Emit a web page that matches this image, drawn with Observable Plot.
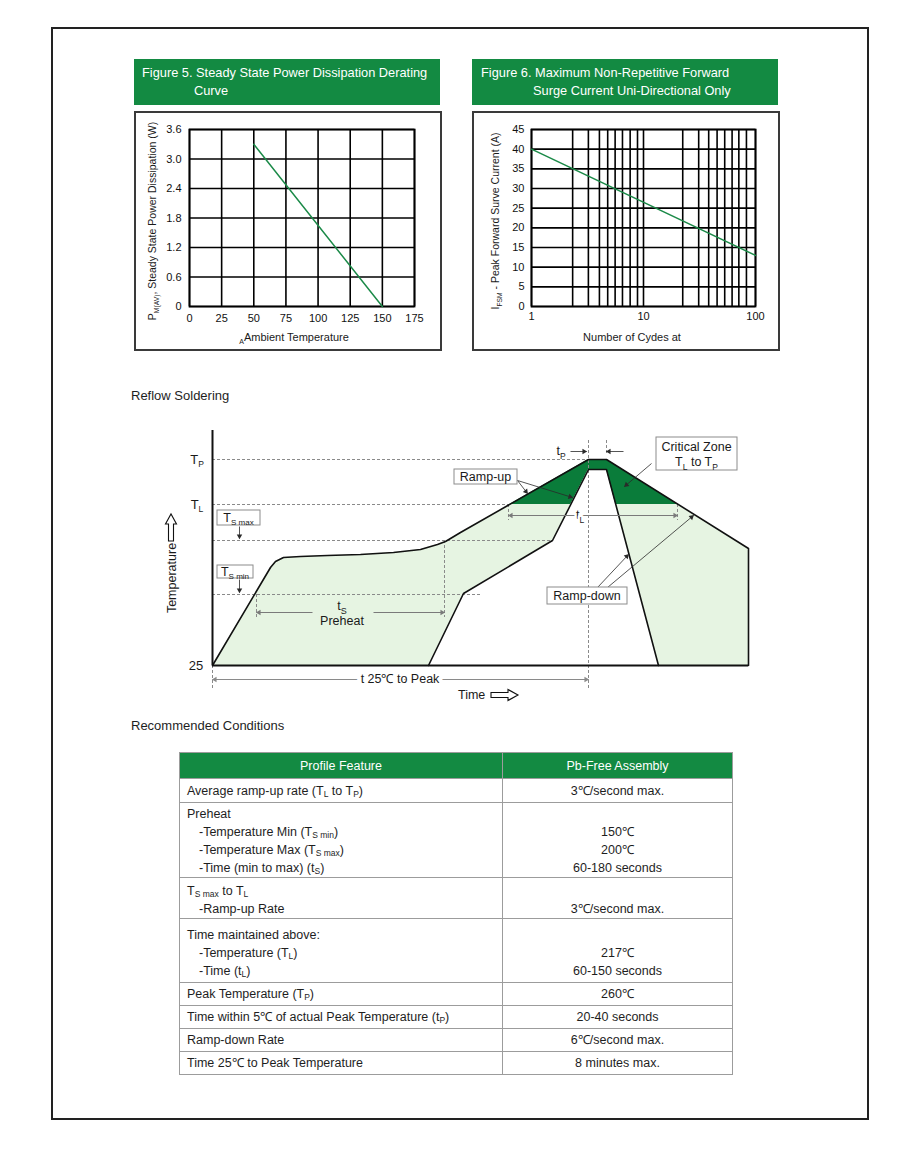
<!DOCTYPE html>
<html><head><meta charset="utf-8">
<script src="https://cdn.jsdelivr.net/npm/d3@7"></script>
<script src="https://cdn.jsdelivr.net/npm/@observablehq/plot@0.6"></script>
<style>
html,body{margin:0;padding:0;background:#fff;}
body{font-family:"Liberation Sans",Arial,Helvetica,sans-serif;color:#1e1e1e;}
#page{position:relative;width:920px;height:1150px;overflow:hidden;background:#fff;}
.abs{position:absolute;}
#frame{left:51px;top:27px;width:818px;height:1093px;border:2px solid #222;box-sizing:border-box;}
.hdr{background:#138a42;color:#fff;font-size:12.8px;line-height:18px;box-sizing:border-box;padding-top:5px;white-space:nowrap;}
.chartbox{border:2px solid #3a3a3a;box-sizing:border-box;background:#fff;}
.section{font-size:13px;line-height:16px;}
#tbl{left:179px;top:752px;width:553px;border-collapse:collapse;font-size:12.5px;table-layout:fixed;}
#tbl td,#tbl th{border:1px solid #9c9c9c;padding:0 0 0 7px;line-height:18px;font-weight:normal;box-sizing:border-box;}
#tbl th{background:#138a42;color:#fff;text-align:center;padding:0;height:26px;}
#tbl td.v{text-align:center;padding-left:0;}
#tbl td div{height:18px;overflow:visible;white-space:nowrap;}
#tbl sub{font-size:8.5px;vertical-align:-2px;line-height:0;}
.ind{padding-left:12px;}
</style></head>
<body>
<div id="page">
  <div id="frame" class="abs"></div>
  <div class="abs hdr" style="left:134px;top:59px;width:306px;height:46px;"><div style="padding-left:8px">Figure 5. Steady State Power Dissipation Derating</div><div style="padding-left:60px">Curve</div></div>
  <div class="abs hdr" style="left:472px;top:59px;width:306px;height:46px;"><div style="padding-left:9px">Figure 6. Maximum Non-Repetitive Forward</div><div style="padding-left:61px">Surge Current Uni-Directional Only</div></div>
  <div class="abs chartbox" style="left:134px;top:111px;width:308px;height:240px;"></div>
  <div class="abs chartbox" style="left:472px;top:111px;width:308px;height:240px;"></div>
  <div id="fig5" class="abs" style="left:136px;top:112px;"></div>
  <div id="fig6" class="abs" style="left:474px;top:112px;"></div>
  <div class="abs section" style="left:131px;top:388px;">Reflow Soldering</div>
  <div id="reflow" class="abs" style="left:150px;top:425px;"></div>
  <div class="abs section" style="left:131px;top:718px;">Recommended Conditions</div>
  <table id="tbl" class="abs"><colgroup><col style="width:323px"><col style="width:230px"></colgroup><tbody></tbody></table>
</div>
<script>
const FONT = '"Liberation Sans", Arial, Helvetica, sans-serif';
const LINE_GREEN = "#1b8a48";
const LIGHT = "#e6f4e2";
const DARK = "#0a7c3a";

// ---------- Figure 5 data ----------
const fig5Temperature = [50, 150];
const fig5Power = [3.3, 0];
const fig5XTicks = [0, 25, 50, 75, 100, 125, 150, 175];
const fig5YTicks = [0, 0.6, 1.2, 1.8, 2.4, 3.0, 3.6];

// ---------- Figure 6 data ----------
const fig6Cycles = [1, 100];
const fig6Current = [40, 13];
const fig6XTicks = [1, 10, 100];
const fig6GridCycles = [1, 2.33, 3.22, 4.04, 4.79, 5.58, 6.49, 7.6, 8.84, 10, 22.4, 31.1, 38.2, 45.4, 53.1, 61.8, 71, 83, 100];
const fig6YTicks = [0, 5, 10, 15, 20, 25, 30, 35, 40, 45];

// ---------- Reflow profile (schematic units: time, temperature height above 25) ----------
const outerTime = [0, 58, 63, 71, 88, 115, 148, 181, 208, 225, 233, 248, 376, 394, 536, 536];
const outerTemp = [0, 98, 104, 108, 109, 110, 111, 113, 116, 121, 124, 133, 206, 206, 117, 0];
const innerTime = [216, 251, 340, 376, 394, 446];
const innerTemp = [0, 72, 125, 196, 196, 0];
const levelNames = ["TsMin", "TsMax", "TL", "TP"];
const levelValues = [71, 125, 161, 206];

// ---------- Table ----------
const tableHeader = ["Profile Feature", "Pb-Free Assembly"];
const featureCells = [
  ["Average ramp-up rate (T<sub>L</sub> to T<sub>P</sub>)"],
  ["Preheat", "*-Temperature Min (T<sub>S min</sub>)", "*-Temperature Max (T<sub>S max</sub>)", "*-Time (min to max) (t<sub>S</sub>)"],
  ["T<sub>S max</sub> to T<sub>L</sub>", "*-Ramp-up Rate"],
  ["Time maintained above:", "*-Temperature (T<sub>L</sub>)", "*-Time (t<sub>L</sub>)"],
  ["Peak Temperature (T<sub>P</sub>)"],
  ["Time within 5℃ of actual Peak Temperature (t<sub>P</sub>)"],
  ["Ramp-down Rate"],
  ["Time 25℃ to Peak Temperature"]
];
const valueCells = [
  ["3℃/second max."],
  ["", "150℃", "200℃", "60-180 seconds"],
  ["", "3℃/second max."],
  ["", "217℃", "60-150 seconds"],
  ["260℃"],
  ["20-40 seconds"],
  ["6℃/second max."],
  ["8 minutes max."]
];

// ---------- helpers ----------
function richText(svg, x, y, parts, o = {}) {
  const size = o.size || 12.5, subSize = o.subSize || size * 0.64, shift = size * 0.28;
  const t = d3.select(svg).append("text")
    .attr("transform", `translate(${x},${y})${o.rotate ? ` rotate(${o.rotate})` : ""}`)
    .attr("text-anchor", o.anchor || "middle")
    .attr("y", "0.35em")
    .attr("font-family", FONT).attr("font-size", size).attr("fill", o.fill || "#1a1a1a");
  if (o.halo) t.attr("stroke", "#fff").attr("stroke-width", o.halo).attr("stroke-linejoin", "round").attr("paint-order", "stroke");
  let down = false;
  for (const p of parts) {
    const sub = Array.isArray(p), str = sub ? p[0] : p;
    const ts = t.append("tspan").text(str);
    if (sub) { ts.attr("font-size", subSize); if (!down) { ts.attr("dy", shift); down = true; } }
    else if (down) { ts.attr("dy", -shift); down = false; }
  }
}
function hollowArrow(svg, x, y, rot) {
  d3.select(svg).append("path")
    .attr("transform", `translate(${x},${y}) rotate(${rot})`)
    .attr("d", "M0,-2.5H17V-5.5L27,0L17,5.5V2.5H0Z")
    .attr("fill", "#fff").attr("stroke", "#111").attr("stroke-width", 1.1);
}
const axisStyle = {fontFamily: FONT, fontSize: "11px", color: "#111", background: "transparent", overflow: "visible"};

// ---------- Figure 5 ----------
{
  const data = fig5Temperature.map((t, i) => ({t, p: fig5Power[i]}));
  const plot = Plot.plot({
    width: 303, height: 237, marginLeft: 53, marginRight: 25, marginTop: 17, marginBottom: 43,
    style: axisStyle,
    x: {domain: [0, 175]},
    y: {domain: [0, 3.6]},
    marks: [
      Plot.gridX(fig5XTicks, {stroke: "#000", strokeOpacity: 1, strokeWidth: 1.6}),
      Plot.gridY(fig5YTicks, {stroke: "#000", strokeOpacity: 1, strokeWidth: 1.6}),
      Plot.frame({stroke: "#000", strokeWidth: 1.8}),
      Plot.line(data, {x: "t", y: "p", stroke: LINE_GREEN, strokeWidth: 1.5}),
      Plot.axisX({ticks: fig5XTicks, tickSize: 0, tickPadding: 8, label: null}),
      Plot.axisY({ticks: fig5YTicks, tickSize: 0, tickPadding: 8, label: null, tickFormat: d => d === 0 ? "0" : d.toFixed(1)})
    ]
  });
  document.getElementById("fig5").append(plot);
  richText(plot, 16, 109, ["P", ["M(AV)"], ", Steady State Power Dissipation (W)"], {size: 10.5, rotate: -90});
  richText(plot, 158, 225, [["A"], "Ambient Temperature"], {size: 11});
}

// ---------- Figure 6 ----------
{
  const data = fig6Cycles.map((c, i) => ({c, a: fig6Current[i]}));
  const plot = Plot.plot({
    width: 302, height: 237, marginLeft: 57, marginRight: 21, marginTop: 17, marginBottom: 43,
    style: axisStyle,
    x: {type: "log", domain: [1, 100]},
    y: {domain: [0, 45]},
    marks: [
      Plot.gridX(fig6GridCycles, {stroke: "#000", strokeOpacity: 1, strokeWidth: 1.6}),
      Plot.gridY(fig6YTicks, {stroke: "#000", strokeOpacity: 1, strokeWidth: 1.6}),
      Plot.frame({stroke: "#000", strokeWidth: 1.8}),
      Plot.line(data, {x: "c", y: "a", stroke: LINE_GREEN, strokeWidth: 1.5}),
      Plot.axisX({ticks: fig6XTicks, tickSize: 0, tickPadding: 6, label: null, tickFormat: d => String(d)}),
      Plot.axisY({ticks: fig6YTicks, tickSize: 0, tickPadding: 7, label: null})
    ]
  });
  document.getElementById("fig6").append(plot);
  richText(plot, 21, 109, ["I", ["FSM"], " - Peak Forward Surve Current (A)"], {size: 10.5, rotate: -90});
  richText(plot, 158, 225, ["Number of Cydes at"], {size: 11});
}

// ---------- Reflow diagram ----------
{
  const L = Object.fromEntries(levelNames.map((n, i) => [n, levelValues[i]]));
  const outer = outerTime.map((x, i) => ({x, y: outerTemp[i]}));
  const inner = innerTime.map((x, i) => ({x, y: innerTemp[i]}));
  function above(points, level) {
    const out = [];
    points.forEach((p, i) => {
      if (i > 0) {
        const q = points[i - 1];
        if ((q.y - level) * (p.y - level) < 0) {
          const t = (level - q.y) / (p.y - q.y);
          out.push({x: q.x + t * (p.x - q.x), y: level});
        }
      }
      if (p.y >= level) out.push(p);
    });
    return out;
  }
  const critical = above(outer, L.TL);

  const dashH = [
    {y: L.TP, x1: 0, x2: 376}, {y: L.TL, x1: 0, x2: 298},
    {y: L.TsMax, x1: 0, x2: 340}, {y: L.TsMin, x1: 0, x2: 268}
  ];
  const dashV = [
    {x: 0, y1: 0, y2: -25}, {x: 376, y1: 225, y2: -25}, {x: 394, y1: 212, y2: 225},
    {x: 296, y1: L.TL, y2: 145}, {x: 465, y1: L.TL, y2: 145},
    {x: 44, y1: L.TsMin, y2: 48}, {x: 232, y1: L.TsMax, y2: 48}
  ];
  const boxes = [
    {x1: 5, x2: 48, y1: 140, y2: 155}, {x1: 5, x2: 41, y1: 87, y2: 100},
    {x1: 242, x2: 305, y1: 181, y2: 196}, {x1: 444, x2: 525, y1: 195, y2: 228},
    {x1: 335, x2: 415, y1: 61, y2: 78}
  ];
  const arrows = [
    {x1: 27, y1: 139, x2: 27, y2: 127, k: "dark"}, {x1: 27, y1: 86, x2: 27, y2: 73, k: "dark"},
    {x1: 305, y1: 185, x2: 315, y2: 172, k: "dark"}, {x1: 305, y1: 185, x2: 360, y2: 168, k: "dark"},
    {x1: 439, y1: 202, x2: 412, y2: 179, k: "dark"},
    {x1: 385, y1: 78, x2: 416, y2: 111, k: "dark"}, {x1: 395, y1: 78, x2: 481, y2: 150, k: "dark"},
    {x1: 358, y1: 214, x2: 374, y2: 214, k: "dark"}, {x1: 411, y1: 214, x2: 394, y2: 214, k: "dark"},
    {x1: 100, y1: 53, x2: 44, y2: 53, k: "gray"}, {x1: 161, y1: 53, x2: 232, y2: 53, k: "gray"},
    {x1: 368, y1: 150, x2: 296, y2: 150, k: "gray"}, {x1: 368, y1: 150, x2: 465, y2: 150, k: "gray"},
    {x1: 188, y1: -14, x2: 0, y2: -14, k: "dash"}, {x1: 188, y1: -14, x2: 376, y2: -14, k: "dash"}
  ];
  const heads = arrows.map(a => {
    const dx = a.x2 - a.x1, dy = a.y2 - a.y1, len = Math.hypot(dx, dy);
    return {x: a.x2 - dx / len * 2.5, y: a.y2 - dy / len * 2.5, angle: Math.atan2(dx, dy) * 180 / Math.PI, k: a.k};
  });
  const col = {dark: "#2a2a2a", gray: "#7a7a7a", dash: "#8a8a8a"};

  const plot = Plot.plot({
    width: 640, height: 280, marginLeft: 62, marginRight: 38, marginTop: 5, marginBottom: 40,
    style: {fontFamily: FONT, fontSize: "12.5px", background: "transparent", overflow: "visible"},
    x: {domain: [0, 540], axis: null},
    y: {domain: [0, 235], axis: null},
    marks: [
      Plot.areaY(outer, {x: "x", y: "y", fill: LIGHT}),
      Plot.areaY(critical, {x: "x", y1: L.TL, y2: "y", fill: DARK}),
      Plot.areaY(inner, {x: "x", y: "y", fill: "#fff"}),
      Plot.ruleY(dashH, {y: "y", x1: "x1", x2: "x2", stroke: "#8a8a8a", strokeWidth: 1, strokeDasharray: "3,2"}),
      Plot.ruleX(dashV, {x: "x", y1: "y1", y2: "y2", stroke: "#8a8a8a", strokeWidth: 1, strokeDasharray: "3,2"}),
      Plot.line(outer, {x: "x", y: "y", stroke: "#111", strokeWidth: 1.6}),
      Plot.line(inner, {x: "x", y: "y", stroke: "#111", strokeWidth: 1.6}),
      Plot.ruleX([0], {y1: 0, y2: 235, stroke: "#111", strokeWidth: 2}),
      Plot.ruleY([0], {x1: 0, x2: 536, stroke: "#111", strokeWidth: 2}),
      Plot.link(arrows, {x1: "x1", y1: "y1", x2: "x2", y2: "y2", stroke: d => col[d.k], strokeWidth: d => d.k === "dark" ? 0.8 : 1, strokeDasharray: d => d.k === "dash" ? "3,2" : null}),
      Plot.dot(heads, {x: "x", y: "y", symbol: "triangle2", r: 2.6, fill: d => col[d.k], rotate: "angle"}),
      Plot.rect(boxes, {x1: "x1", x2: "x2", y1: "y1", y2: "y2", fill: "#fff", stroke: "#8c8c8c", strokeWidth: 1})
    ]
  });
  document.getElementById("reflow").append(plot);
  const sx = v => plot.scale("x").apply(v), sy = v => plot.scale("y").apply(v);
  richText(plot, sx(-15), sy(L.TP), ["T", ["P"]], {size: 13, subSize: 8.5});
  richText(plot, sx(-15), sy(L.TL), ["T", ["L"]], {size: 13, subSize: 8.5});
  richText(plot, sx(-16), sy(0), ["25"], {size: 13});
  richText(plot, sx(26.5), sy(147.5), ["T", ["S max"]], {size: 12.5, subSize: 8});
  richText(plot, sx(23), sy(93.5), ["T", ["S min"]], {size: 12.5, subSize: 8});
  richText(plot, sx(273.5), sy(188.5), ["Ramp-up"]);
  richText(plot, sx(484.5), sy(218.5), ["Critical Zone"]);
  richText(plot, sx(484.5), sy(203), ["T", ["L"], " to T", ["P"]], {subSize: 8.5});
  richText(plot, sx(375), sy(69.5), ["Ramp-down"]);
  richText(plot, sx(349), sy(214), ["t", ["P"]], {subSize: 8.5});
  richText(plot, sx(368), sy(150), ["t", ["L"]], {subSize: 8.5, halo: 5});
  richText(plot, sx(130), sy(59), ["t", ["S"]], {subSize: 9});
  richText(plot, sx(130), sy(44), ["Preheat"]);
  richText(plot, sx(188), sy(-14), ["t 25℃ to Peak"], {halo: 9});
  richText(plot, sx(246), sy(-30), ["Time"], {anchor: "start"});
  hollowArrow(plot, sx(279), sy(-30), 0);
  richText(plot, sx(-40), sy(87), ["Temperature"], {rotate: -90});
  hollowArrow(plot, sx(-41), sy(124), -90);
}

// ---------- Table ----------
{
  const tb = document.querySelector("#tbl tbody");
  const hr = document.createElement("tr");
  tableHeader.forEach(h => { const th = document.createElement("th"); th.textContent = h; hr.append(th); });
  tb.append(hr);
  const rowHeights = [24, 75, 40, 64, 23, 23, 23, 23];
  const rowPads = [0, 2, 4, 7, 0, 0, 0, 0];
  featureCells.forEach((lines, r) => {
    const tr = document.createElement("tr");
    const multi = lines.length > 1;
    [lines, valueCells[r]].forEach((cell, c) => {
      const td = document.createElement("td");
      if (c === 1) td.className = "v";
      td.style.height = rowHeights[r] + "px";
      td.style.verticalAlign = multi ? "top" : "middle";
      if (multi) td.style.paddingTop = rowPads[r] + "px";
      td.innerHTML = cell.map(s => s.startsWith("*") ? `<div class="ind">${s.slice(1)}</div>` : `<div>${s || "&nbsp;"}</div>`).join("");
      tr.append(td);
    });
    tb.append(tr);
  });
}
</script>
</body></html>
